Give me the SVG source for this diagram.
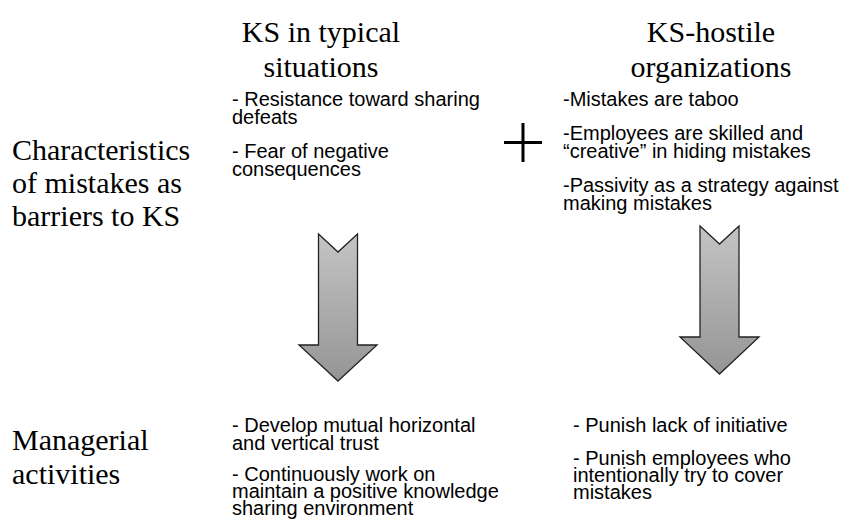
<svg xmlns="http://www.w3.org/2000/svg" width="863" height="522" viewBox="0 0 863 522">
<defs>
<linearGradient id="g" x1="0" y1="0" x2="0" y2="1"><stop offset="0" stop-color="#c4c4c4"/><stop offset="1" stop-color="#959595"/></linearGradient>
</defs>
<style>
.h{font-family:"Liberation Serif","Times New Roman",serif;font-size:30px;fill:#000}
.b{font-family:"Liberation Sans",Arial,sans-serif;font-size:20px;fill:#000}
.a{fill:url(#g);stroke:#222;stroke-width:1.3}
</style>
<rect width="863" height="522" fill="#fff"/>
<g id="col1-title"><text class="h" text-anchor="middle" x="321" y="42">KS in typical</text><text class="h" text-anchor="middle" x="321" y="77">situations</text></g>
<g id="col2-title"><text class="h" text-anchor="middle" x="711" y="42">KS-hostile</text><text class="h" text-anchor="middle" x="711" y="77">organizations</text></g>
<g id="row1-label"><text class="h" x="12" y="160">Characteristics</text><text class="h" x="12" y="193">of mistakes as</text><text class="h" x="12" y="226">barriers to KS</text></g>
<g id="row2-label"><text class="h" x="12" y="450">Managerial</text><text class="h" x="12" y="484">activities</text></g>
<g id="cell-1-1"><text class="b" x="232" y="106">- Resistance toward sharing</text><text class="b" x="232" y="124">defeats</text><text class="b" x="232" y="158">- Fear of negative</text><text class="b" x="232" y="176">consequences</text></g>
<g id="plus"><path d="M504 142.5H542M523 123V162" stroke="#000" stroke-width="3" fill="none"/></g>
<g id="cell-1-2"><text class="b" x="563" y="106">-Mistakes are taboo</text><text class="b" x="563" y="140">-Employees are skilled and</text><text class="b" x="563" y="158">“creative” in hiding mistakes</text><text class="b" x="563" y="192">-Passivity as a strategy against</text><text class="b" x="563" y="210">making mistakes</text></g>
<g id="connectors">
<path class="a" d="M318.5 234L338 252L357.5 234V345H377L338 381L299 345H318.5Z"/>
<path class="a" d="M700 226L719.5 244L739 226V337H759L719.5 374L680 337H700Z"/>
</g>
<g id="cell-2-1"><text class="b" x="232" y="432">- Develop mutual horizontal</text><text class="b" x="232" y="450">and vertical trust</text><text class="b" x="232" y="481">- Continuously work on</text><text class="b" x="232" y="498">maintain a positive knowledge</text><text class="b" x="232" y="515">sharing environment</text></g>
<g id="cell-2-2"><text class="b" x="573" y="432">- Punish lack of initiative</text><text class="b" x="573" y="465">- Punish employees who</text><text class="b" x="573" y="482">intentionally try to cover</text><text class="b" x="573" y="499">mistakes</text></g>
</svg>
